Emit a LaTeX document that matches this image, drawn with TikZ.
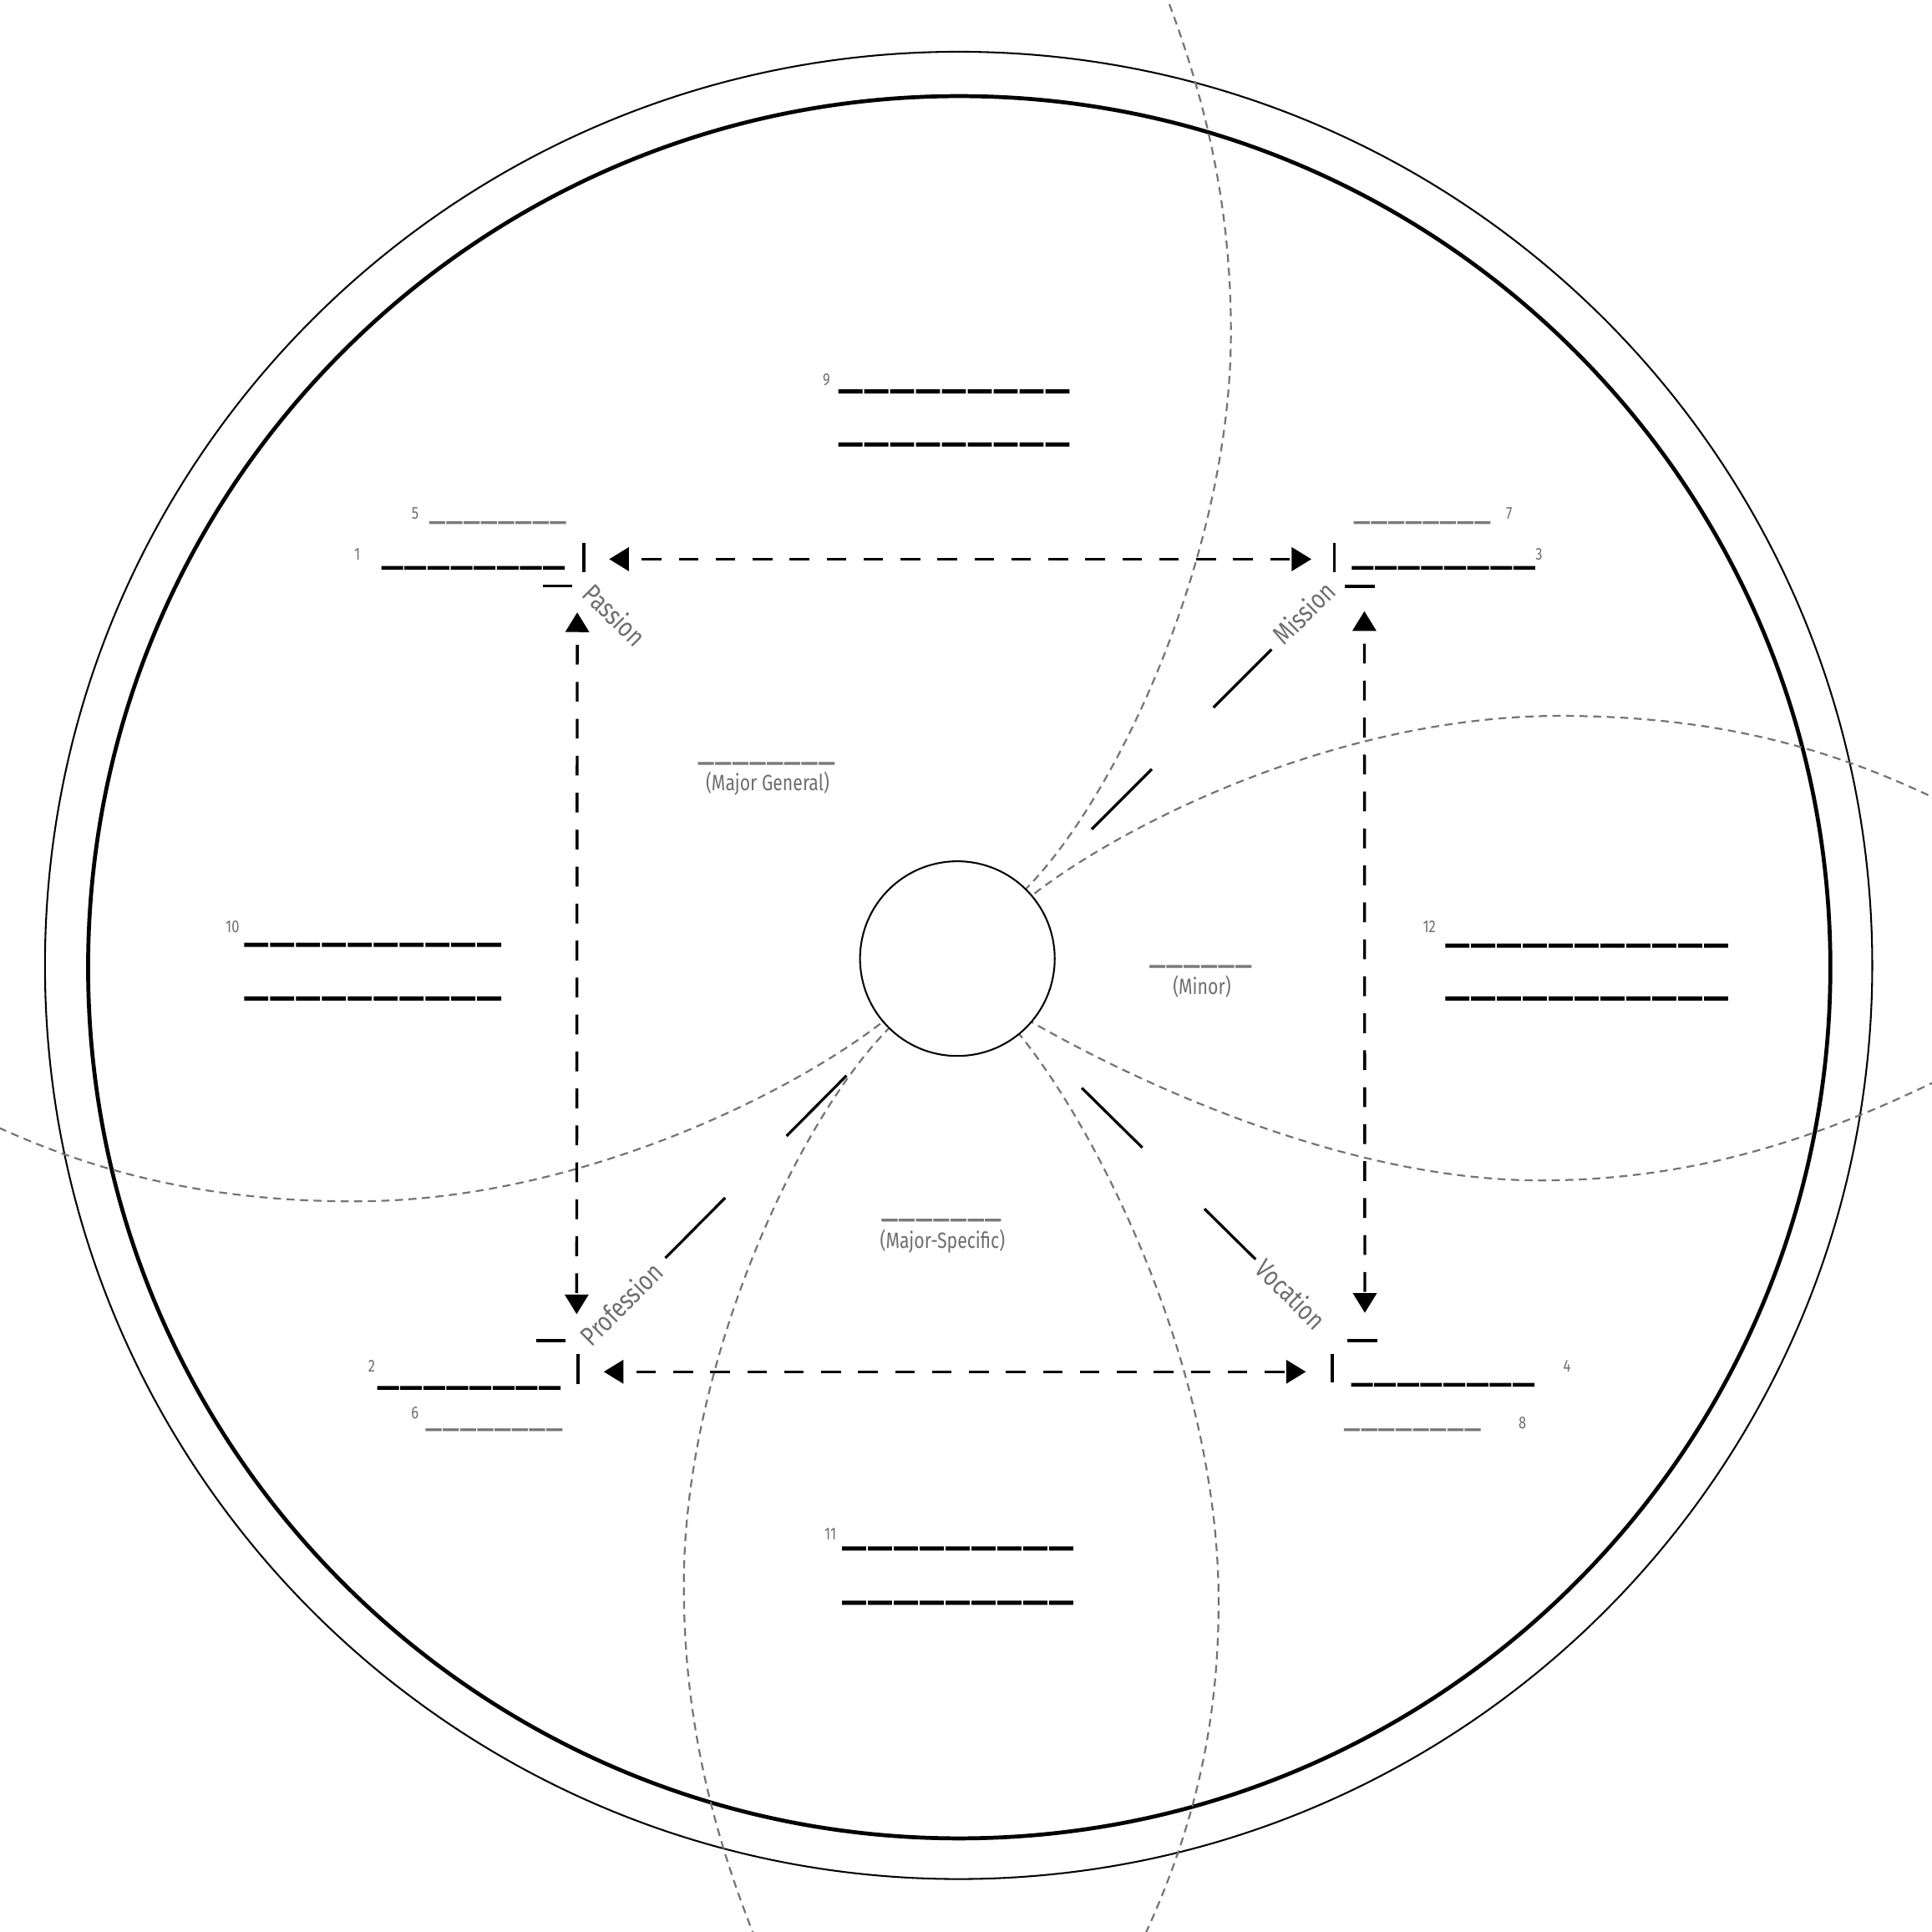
\documentclass[tikz,border=0pt]{standalone}
\usepackage{fontspec}
\setmainfont{Fira Sans}
\newfontfamily\labfont[FakeStretch=0.8]{Fira Sans}
\newfontfamily\blankfont[FakeBold=2.3]{DejaVu Sans}
\usetikzlibrary{arrows.meta}
\definecolor{labgray}{HTML}{6E6E6E}
\definecolor{curvegray}{HTML}{747474}
\definecolor{linegray}{HTML}{7A7A7A}
\newcommand\blanks[2]{\_\ifnum#1>1 \kern#2\relax\blanksnext{#1}{#2}\fi}
\newcommand\blanksnext[2]{\expandafter\blanks\expandafter{\the\numexpr#1-1\relax}{#2}}
\tikzset{
  bigblank/.style={inner sep=0pt, anchor=south west, font=\blankfont\fontsize{36}{36}\selectfont},
  cornerblank/.style={inner sep=0pt, anchor=south west, font=\blankfont\fontsize{32.5}{32.5}\selectfont},
  grayblank/.style={inner sep=0pt, anchor=south west, text=linegray, font=\blankfont\fontsize{24}{24}\selectfont},
  numlabel/.style={inner sep=0pt, text=labgray, font=\labfont\fontsize{14}{14}\selectfont},
  captext/.style={inner sep=0pt, text=labgray, font=\labfont\fontsize{18}{18}\selectfont},
  sidetext/.style={inner sep=0pt, text=labgray, font=\labfont\fontsize{22}{22}\selectfont},
  arr/.style={line width=2.3pt, dash pattern=on 16pt off 14pt, dash phase=19pt,
    {Triangle[length=16pt,width=19pt]}-{Triangle[length=16pt,width=19pt]}},
  tickmark/.style={line width=2.4pt},
  spoke/.style={line width=2.2pt, dash pattern=on 69pt off 70.7pt},
  orbit/.style={draw=curvegray, line width=1.5pt, dash pattern=on 6.5pt off 4.5pt}
}
\begin{document}
\begin{tikzpicture}[x=1pt,y=-1pt]
\useasboundingbox (0,0) rectangle (1568,1568);
\clip (0,0) rectangle (1568,1568);
% outer rings
\draw[line width=1.4pt] (778,783.5) circle[radius=741.5];
\draw[line width=3.2pt] (778.5,785) circle[radius=707];
% dashed orbits
\draw[orbit] (831,723) .. controls (905,650) and (999,450) .. (999,270) .. controls (999,170) and (980,80) .. (940,-20);
\draw[orbit, rotate around={180:(777,778)}] (831,723) .. controls (905,650) and (999,450) .. (999,270) .. controls (999,170) and (980,80) .. (940,-20);
\draw[orbit] (825.6,837.3) .. controls (890,915) and (989,1110) .. (989,1300) .. controls (989,1420) and (960,1510) .. (915,1600);
\draw[orbit] (831,732) .. controls (900,675) and (1080,581) .. (1266,581) .. controls (1420,581) and (1520,620) .. (1610,668);
\draw[orbit, rotate around={180:(777,778)}] (831,732) .. controls (900,675) and (1080,581) .. (1266,581) .. controls (1420,581) and (1520,620) .. (1610,668);
\draw[orbit] (833,827) .. controls (900,866) and (1080,958) .. (1250,958) .. controls (1390,958) and (1500,915) .. (1610,858);
% core
\node[draw, circle, line width=1.4pt, minimum size=158pt, inner sep=0pt, fill=white] (core) at (777,778) {};
% corner labels
\node[sidetext, rotate=-45] (passion) at (499,499) {Passion};
\node[sidetext, rotate=45] (mission) at (1058,497) {Mission};
\node[sidetext, rotate=45] (profession) at (504,1058) {Profession};
\node[sidetext, rotate=-45] (vocation) at (1048,1050) {Vocation};
% spokes
\coordinate (urA) at (886,673); \coordinate (urB) at (1032,527);
\coordinate (llA) at (687,873); \coordinate (llB) at (540,1021);
\coordinate (lrA) at (878,883); \coordinate (lrB) at (1019,1022);
\draw[spoke] (urA) -- (urB);
\draw[spoke] (llA) -- (llB);
\draw[spoke] (lrA) -- (lrB);
% arrows
\coordinate (tl) at (494.4,453.8); \coordinate (tr) at (1064.3,453.8);
\coordinate (bl) at (490,1113.3); \coordinate (br) at (1059.8,1113.3);
\coordinate (lu) at (468.5,497); \coordinate (ld) at (468,1066.6);
\coordinate (ru) at (1107.3,496); \coordinate (rd) at (1107.7,1065.5);
\draw[arr] (tl) -- (tr);
\draw[arr] (bl) -- (br);
\draw[arr] (lu) -- (ld);
\draw[arr] (ru) -- (rd);
% corner ticks
\draw[tickmark] (474,440.6) -- (474,464.4);
\draw[tickmark] (440.6,475.5) -- (464.4,475.5);
\draw[tickmark] (1083,440.6) -- (1083,464.4);
\draw[tickmark] (1091.5,476) -- (1115.6,476);
\draw[tickmark] (435,1088) -- (459,1088);
\draw[tickmark] (469,1099) -- (469,1123);
\draw[tickmark] (1093.7,1088) -- (1117.9,1088);
\draw[tickmark] (1081.3,1098.7) -- (1081.3,1122);
% numbers
\node[numlabel] (n1) at (290,449.6) {1};
\node[numlabel] (n5) at (337,417) {5};
\node[numlabel] (n2) at (301.7,1108.4) {2};
\node[numlabel] (n6) at (336.7,1146.8) {6};
\node[numlabel] (n3) at (1249,449.6) {3};
\node[numlabel] (n7) at (1224.8,417) {7};
\node[numlabel] (n4) at (1271.8,1108.4) {4};
\node[numlabel] (n8) at (1235.6,1155) {8};
\node[numlabel] (n9) at (670.7,308.5) {9};
\node[numlabel] (n10) at (188.7,752.5) {10};
\node[numlabel] (n11) at (674,1245) {11};
\node[numlabel] (n12) at (1160,752) {12};
% blanks
\node[cornerblank] (b1) at (310,462.2) {\blanks{8}{2.5pt}};
\node[grayblank] (b5) at (348.6,425.2) {\blanks{8}{2pt}};
\node[cornerblank] (b3) at (1097.6,462.2) {\blanks{8}{2.5pt}};
\node[grayblank] (b7) at (1099,425.2) {\blanks{8}{2pt}};
\node[cornerblank] (b2) at (306.6,1127.7) {\blanks{8}{2.5pt}};
\node[grayblank] (b6) at (345.7,1161.4) {\blanks{8}{2pt}};
\node[cornerblank] (b4) at (1097,1125.2) {\blanks{8}{2.5pt}};
\node[grayblank] (b8) at (1091,1161.4) {\blanks{8}{2pt}};
\node[bigblank] (b9a) at (681,319.2) {\blanks{9}{3pt}};
\node[bigblank] (b9b) at (681,362.2) {\blanks{9}{3pt}};
\node[bigblank] (b10a) at (198.8,768.2) {\blanks{10}{3pt}};
\node[bigblank] (b10b) at (198.8,811.8) {\blanks{10}{3pt}};
\node[bigblank] (b12a) at (1173.5,768.9) {\blanks{11}{3pt}};
\node[bigblank] (b12b) at (1173.5,811.8) {\blanks{11}{3pt}};
\node[bigblank] (b11a) at (684,1258.2) {\blanks{9}{3pt}};
\node[bigblank] (b11b) at (684,1302.2) {\blanks{9}{3pt}};
% region captions
\node[grayblank] (gMG) at (566.7,620.6) {\blanks{8}{2pt}};
\node[captext] (majgen) at (623,636) {(Major General)};
\node[grayblank] (gMin) at (933,785.4) {\blanks{6}{2pt}};
\node[captext] (minor) at (975.5,800.5) {(Minor)};
\node[grayblank] (gMS) at (715.7,991.3) {\blanks{7}{2pt}};
\node[captext] (majspec) at (765,1007.5) {(Major-Specific)};
\end{tikzpicture}
\end{document}
